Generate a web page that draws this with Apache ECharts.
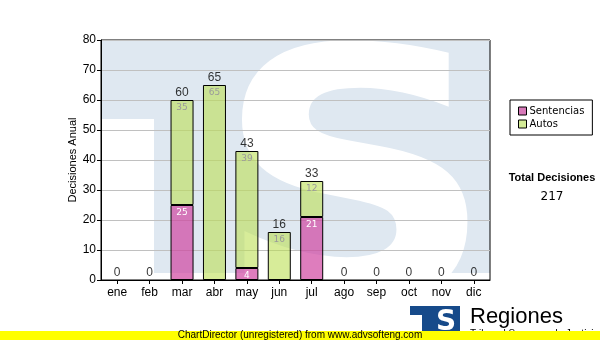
<!DOCTYPE html>
<html>
<head>
<meta charset="utf-8">
<script src="https://cdn.jsdelivr.net/npm/echarts@6/dist/echarts.min.js"></script>
<style>
  html, body { margin: 0; padding: 0; background: #fff; }
  #chart { width: 600px; height: 340px; }
</style>
</head>
<body>
<div id="chart"></div>
<script>
// data
var meses = ['ene', 'feb', 'mar', 'abr', 'may', 'jun', 'jul', 'ago', 'sep', 'oct', 'nov', 'dic']
var sentencias = [0, 0, 25, 0, 4, 0, 21, 0, 0, 0, 0, 0]
var autos = [0, 0, 35, 65, 39, 16, 12, 0, 0, 0, 0, 0]
var totales = [0, 0, 60, 65, 43, 16, 33, 0, 0, 0, 0, 0]
var totalDecisiones = '217'

var axisFont = 'Liberation Sans'
var chart = echarts.init(document.getElementById('chart'))

function hideZero(p) {
	return p.value ? String(p.value) : ''
}
// empty stacks draw no bar at all
function noZero(arr) {
	return arr.map(function (v) { return v === 0 ? '-' : v })
}

chart.setOption({
	backgroundColor: '#fff',
	animation: false,
	grid: {
		left: 101,
		top: 40,
		right: 110,
		bottom: 60,
		show: true,
		borderColor: '#000',
		borderWidth: 1,
		backgroundColor: 'transparent',
	},
	legend: {
		orient: 'vertical',
		left: 510,
		top: 100,
		padding: [6, 8, 6, 8],
		borderColor: '#000',
		borderWidth: 1,
		itemWidth: 8,
		itemHeight: 8,
		itemGap: 3,
		icon: 'rect',
		selectedMode: false,
		textStyle: { fontFamily: 'DejaVu Sans', fontSize: 10, color: '#000', padding: [0, 0, 0, -2] },
		data: [
			{ name: 'Sentencias', itemStyle: { color: '#d779b9', borderColor: '#000', borderWidth: 1 } },
			{ name: 'Autos', itemStyle: { color: '#d3eb96', borderColor: '#000', borderWidth: 1 } },
		],
	},
	xAxis: {
		type: 'category',
		data: meses,
		axisLine: { lineStyle: { color: '#000', width: 1 } },
		axisTick: { show: true, alignWithLabel: true, length: 4, lineStyle: { color: '#000' } },
		axisLabel: { fontFamily: axisFont, fontSize: 12, color: '#000', margin: 7 },
		splitLine: { show: false },
	},
	yAxis: {
		type: 'value',
		min: 0,
		max: 80,
		interval: 10,
		name: 'Decisiones Anual',
		nameLocation: 'middle',
		nameGap: 23,
		nameMoveOverlap: false,
		nameTextStyle: { fontFamily: axisFont, fontSize: 11, color: '#000' },
		axisLine: { show: true, lineStyle: { color: '#000', width: 1 } },
		axisTick: { show: true, length: 4, lineStyle: { color: '#000' } },
		axisLabel: { fontFamily: axisFont, fontSize: 12, color: '#000', margin: 5 },
		splitLine: { show: true, lineStyle: { color: '#c0c0c0', width: 1 } },
	},
	graphic: [
		// faint logo watermark behind the plot
		{ type: 'rect', z: -30, shape: { x: 101, y: 40, width: 389, height: 233 }, style: { fill: '#dfe8f1' } },
		{ type: 'rect', z: -20, shape: { x: 101, y: 119, width: 53, height: 161 }, style: { fill: '#fff' } },
		{
			type: 'text', z: -20, x: 355, y: 209, scaleX: 1.12,
			style: { text: 'S', font: 'bold 350px "DejaVu Sans"', fill: '#fff', align: 'center', verticalAlign: 'middle' },
		},
		{
			type: 'text', x: 552, y: 178,
			style: { text: 'Total Decisiones', font: 'bold 11px "Liberation Sans"', fill: '#000', align: 'center', verticalAlign: 'middle' },
		},
		{
			type: 'text', x: 552, y: 197,
			style: { text: totalDecisiones, font: '12px "DejaVu Sans"', fill: '#000', align: 'center', verticalAlign: 'middle' },
		},
		// logo bottom right
		{ type: 'rect', shape: { x: 410, y: 306, width: 50, height: 30 }, style: { fill: '#164a8a' } },
		{ type: 'rect', shape: { x: 410, y: 315, width: 12, height: 21 }, style: { fill: '#fff' } },
		{
			type: 'text', x: 446, y: 323,
			style: { text: 'S', font: 'bold 28px "DejaVu Sans"', fill: '#fff', align: 'center', verticalAlign: 'middle' },
		},
		{
			type: 'text', x: 470, y: 317,
			style: { text: 'Regiones', font: '22px "Liberation Sans"', fill: '#000', verticalAlign: 'middle' },
		},
		{
			type: 'text', x: 470, y: 334,
			style: { text: 'Tribunal Supremo de Justicia', font: '10px "Liberation Sans"', fill: '#000', verticalAlign: 'middle' },
		},
		{ type: 'rect', z: 50, shape: { x: 0, y: 331, width: 600, height: 9 }, style: { fill: '#ffff00' } },
		{
			type: 'text', z: 51, x: 300, y: 335,
			style: { text: 'ChartDirector (unregistered) from www.advsofteng.com', font: '10px "Liberation Sans"', fill: '#000', align: 'center', verticalAlign: 'middle' },
		},
	],
	series: [
		{
			name: 'Sentencias',
			type: 'bar',
			stack: 'total',
			barWidth: 23,
			data: noZero(sentencias),
			itemStyle: { color: 'rgba(206,63,158,0.68)', borderColor: '#000', borderWidth: 1 },
			label: {
				show: true, position: 'insideTop', distance: 3, formatter: hideZero,
				fontFamily: 'DejaVu Sans', fontSize: 9, color: '#fff',
			},
		},
		{
			name: 'Autos',
			type: 'bar',
			stack: 'total',
			barWidth: 23,
			data: noZero(autos),
			itemStyle: { color: 'rgba(186,222,80,0.58)', borderColor: '#000', borderWidth: 1 },
			label: {
				show: true, position: 'insideTop', distance: 3, formatter: hideZero,
				fontFamily: 'DejaVu Sans', fontSize: 9, color: '#9a9a9a',
			},
		},
		{
			name: 'Total',
			type: 'scatter',
			data: totales,
			symbolSize: 1,
			itemStyle: { color: 'rgba(0,0,0,0)' },
			label: {
				show: true, position: 'top', distance: 1,
				fontFamily: axisFont, fontSize: 12, color: '#000',
			},
			z: 5,
		},
	],
})
</script>
</body>
</html>
